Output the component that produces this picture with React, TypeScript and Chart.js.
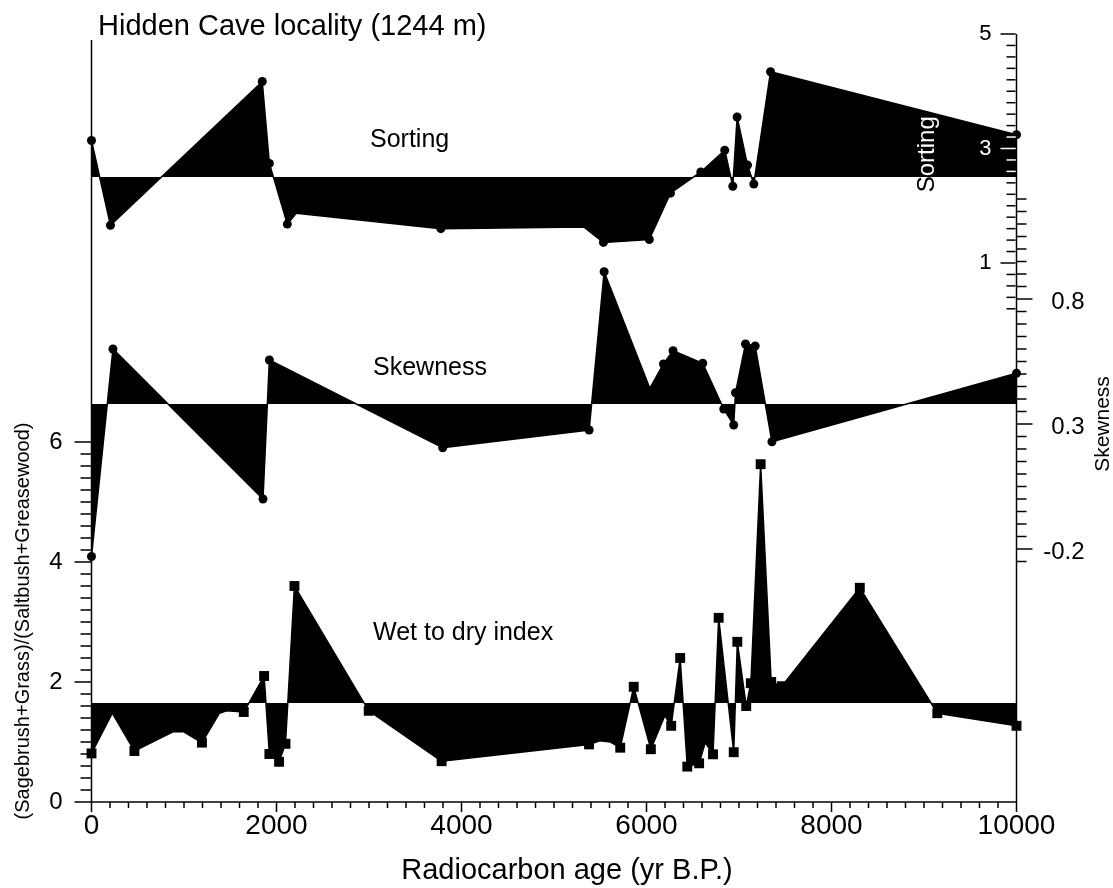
import React, { useEffect, useRef } from 'react';
import { Chart, registerables } from 'chart.js';

Chart.register(...registerables);

const FONT = '"Liberation Sans", Arial, Helvetica, sans-serif';

// ---------- Sorting (right axis, upper) ----------
const sortingAge = [0, 205, 1846, 1923, 2117, 2213, 3777, 5322, 5534, 6030, 6259, 6587, 6846, 6933, 6980, 7092, 7160, 7341, 10000];
const sortingValue = [3.14, 1.66, 4.17, 2.74, 1.68, 1.87, 1.6, 1.63, 1.36, 1.41, 2.22, 2.59, 2.97, 2.34, 3.55, 2.71, 2.38, 4.34, 3.24];
const sortingMarker = [1, 1, 1, 1, 1, 0, 1, 0, 1, 1, 1, 1, 1, 1, 1, 1, 1, 1, 1];
const sortingBase = 2.5;

// ---------- Skewness (right axis, middle) ----------
const skewAge = [0, 232, 1854, 1923, 3797, 5380, 5542, 6036, 6183, 6287, 6608, 6835, 6943, 6962, 7070, 7175, 7356, 10000];
const skewValue = [-0.23, 0.6, 0.0, 0.556, 0.205, 0.276, 0.909, 0.443, 0.54, 0.593, 0.543, 0.36, 0.296, 0.425, 0.62, 0.612, 0.229, 0.503];
const skewMarker = [1, 1, 1, 1, 1, 1, 1, 0, 1, 1, 1, 1, 1, 1, 1, 1, 1, 1];
const skewBase = 0.38;

// ---------- Wet to dry index (left axis) ----------
const wetAge = [0, 225, 464, 881, 997, 1194, 1383, 1460, 1646, 1700, 1866, 1923, 2028, 2097, 2194, 2997, 3785, 5379, 5495, 5610, 5716, 5862, 6047, 6198, 6267, 6364, 6441, 6569, 6635, 6719, 6780, 6943, 6982, 7078, 7128, 7234, 7348, 7463, 8306, 9144, 10000];
const wetValue = [0.81, 1.48, 0.85, 1.17, 1.17, 0.99, 1.48, 1.52, 1.5, 1.645, 2.1, 0.8, 0.67, 0.97, 3.6, 1.52, 0.68, 0.96, 1.02, 1.0, 0.905, 1.92, 0.88, 1.44, 1.27, 2.4, 0.59, 0.645, 0.99, 0.795, 3.07, 0.83, 2.67, 1.6, 1.98, 5.63, 2.0, 1.93, 3.57, 1.48, 1.27];
const wetMarker = [1, 0, 1, 0, 0, 1, 0, 0, 1, 0, 1, 1, 1, 1, 1, 1, 1, 1, 0, 0, 1, 1, 1, 0, 1, 1, 1, 1, 0, 1, 1, 1, 1, 1, 1, 1, 1, 1, 1, 1, 1];
const wetBase = 1.65;

// ---------- Axes ----------
const xTickLabels = [0, 2000, 4000, 6000, 8000, 10000];
const leftTickLabels = [0, 2, 4, 6];
const sortingTickLabels = [1, 3, 5];
const skewTickLabels = [-0.2, 0.3, 0.8];

const title = 'Hidden Cave locality (1244 m)';
const xTitle = 'Radiocarbon age (yr B.P.)';
const leftTitle = '(Sagebrush+Grass)/(Saltbush+Greasewood)';

function drawText(ctx: CanvasRenderingContext2D, s: string, x: number, y: number, size: number, align: CanvasTextAlign, baseline: CanvasTextBaseline, rot = 0) {
  ctx.save();
  ctx.font = `${size}px ${FONT}`;
  ctx.textAlign = align;
  ctx.textBaseline = baseline;
  ctx.translate(x, y);
  if (rot) ctx.rotate(rot);
  ctx.fillText(s, 0, 0);
  ctx.restore();
}

function line(ctx: CanvasRenderingContext2D, x1: number, y1: number, x2: number, y2: number) {
  ctx.beginPath();
  ctx.moveTo(x1, y1);
  ctx.lineTo(x2, y2);
  ctx.stroke();
}

const axesPlugin = {
  id: 'customAxes',
  beforeDraw(chart: any) {
    const ctx = chart.ctx;
    ctx.save();
    ctx.fillStyle = '#fff';
    ctx.fillRect(0, 0, chart.width, chart.height);
    ctx.restore();
  },
  afterDatasetsDraw(chart: any) {
    const ctx: CanvasRenderingContext2D = chart.ctx;
    const ca = chart.chartArea;
    const xs = chart.scales.x;
    const yW = chart.scales.yW;
    const yS = chart.scales.yS;
    const yK = chart.scales.yK;
    ctx.save();
    ctx.strokeStyle = '#000';
    ctx.fillStyle = '#000';
    ctx.lineWidth = 1.5;

    // left axis
    line(ctx, ca.left, ca.top + 6, ca.left, ca.bottom);
    for (let i = 0; i <= 30; i++) {
      const v = i * 0.2;
      const y = yW.getPixelForValue(v);
      const len = i % 10 === 0 ? 17 : 11;
      line(ctx, ca.left - len, y, ca.left, y);
    }
    leftTickLabels.forEach((v) => drawText(ctx, String(v), ca.left - 29, yW.getPixelForValue(v), 24, 'right', 'middle'));

    // bottom axis
    line(ctx, ca.left, ca.bottom, ca.right, ca.bottom);
    for (let v = 0; v <= 10000; v += 200) {
      const x = xs.getPixelForValue(v);
      const len = v % 2000 === 0 ? 10 : 6;
      line(ctx, x, ca.bottom, x, ca.bottom + len);
    }
    xTickLabels.forEach((v) => drawText(ctx, String(v), xs.getPixelForValue(v), ca.bottom + 24, 28, 'center', 'middle'));

    // right axis line
    line(ctx, ca.right, ca.top, ca.right, ca.bottom);

    // skewness ticks (right side)
    for (let i = -5; i <= 24; i++) {
      const y = yK.getPixelForValue(i * 0.05);
      const len = (i + 4) % 10 === 0 ? 16 : 10;
      line(ctx, ca.right, y, ca.right + len, y);
    }
    skewTickLabels.forEach((v) => drawText(ctx, v.toFixed(1), ca.right + 68, yK.getPixelForValue(v) + 3, 24, 'right', 'middle'));
    drawText(ctx, 'Skewness', ca.right + 87, yK.getPixelForValue(0.3), 21, 'center', 'middle', -Math.PI / 2);

    // sorting ticks (inside, drawn inverted over the fill)
    ctx.globalCompositeOperation = 'difference';
    ctx.strokeStyle = '#fff';
    ctx.fillStyle = '#fff';
    for (let i = 1; i <= 25; i++) {
      const v = i * 0.2;
      const y = yS.getPixelForValue(v);
      const len = i % 10 === 5 ? 16 : 10;
      line(ctx, ca.right - len, y, ca.right - 0.75, y);
    }
    sortingTickLabels.forEach((v) => drawText(ctx, String(v), ca.right - 25, yS.getPixelForValue(v), 22, 'right', 'middle'));
    drawText(ctx, 'Sorting', ca.right - 89, yS.getPixelForValue(2.9), 24, 'center', 'middle', -Math.PI / 2);
    ctx.globalCompositeOperation = 'source-over';
    ctx.fillStyle = '#000';

    // titles
    drawText(ctx, title, 98, 35, 29, 'left', 'alphabetic');
    drawText(ctx, xTitle, 567, ca.bottom + 69, 29, 'center', 'middle');
    drawText(ctx, leftTitle, 23, 621, 20, 'center', 'middle', -Math.PI / 2);

    // series labels
    drawText(ctx, 'Sorting', 370, 147, 25, 'left', 'alphabetic');
    drawText(ctx, 'Skewness', 373, 375, 25, 'left', 'alphabetic');
    drawText(ctx, 'Wet to dry index', 373, 640, 25, 'left', 'alphabetic');
    ctx.restore();
  },
};

function series(label: string, ages: number[], values: number[], marker: number[], axis: string, base: number, style: string, radius: number) {
  return {
    label,
    data: ages.map((a, i) => ({ x: a, y: values[i] })),
    yAxisID: axis,
    borderColor: '#000',
    backgroundColor: '#000',
    borderWidth: 1.5,
    fill: { value: base },
    tension: 0,
    pointStyle: style,
    pointRadius: marker.map((m) => (m ? radius : 0)),
    pointHoverRadius: marker.map((m) => (m ? radius : 0)),
    pointBackgroundColor: '#000',
    pointBorderColor: '#000',
    pointBorderWidth: 0,
    clip: false,
  };
}

export default function App() {
  const ref = useRef<HTMLCanvasElement>(null);
  useEffect(() => {
    document.body.style.margin = '0';
    const canvas = ref.current as HTMLCanvasElement;
    const chart = new Chart(canvas, {
      type: 'line',
      data: {
        datasets: [
          series('Sorting', sortingAge, sortingValue, sortingMarker, 'yS', sortingBase, 'circle', 4.5),
          series('Skewness', skewAge, skewValue, skewMarker, 'yK', skewBase, 'circle', 4.5),
          series('Wet to dry index', wetAge, wetValue, wetMarker, 'yW', wetBase, 'rect', 7),
        ] as any,
      },
      options: {
        responsive: false,
        animation: false,
        events: [],
        layout: { padding: { left: 91.5, right: 96.5, top: 34, bottom: 86 } },
        plugins: { legend: { display: false }, tooltip: { enabled: false } },
        scales: {
          x: { type: 'linear', min: 0, max: 10000, display: false },
          yW: { type: 'linear', min: 0, max: 12.8, display: false },
          yS: { type: 'linear', min: -8.415, max: 5, display: false },
          yK: { type: 'linear', min: -1.212, max: 1.86, display: false },
        },
      } as any,
      plugins: [axesPlugin],
    });
    return () => chart.destroy();
  }, []);
  return (
    <div style={{ width: 1113, height: 888 }}>
      <canvas ref={ref} width={1113} height={888} style={{ display: 'block', width: '1113px', height: '888px' }} />
    </div>
  );
}
